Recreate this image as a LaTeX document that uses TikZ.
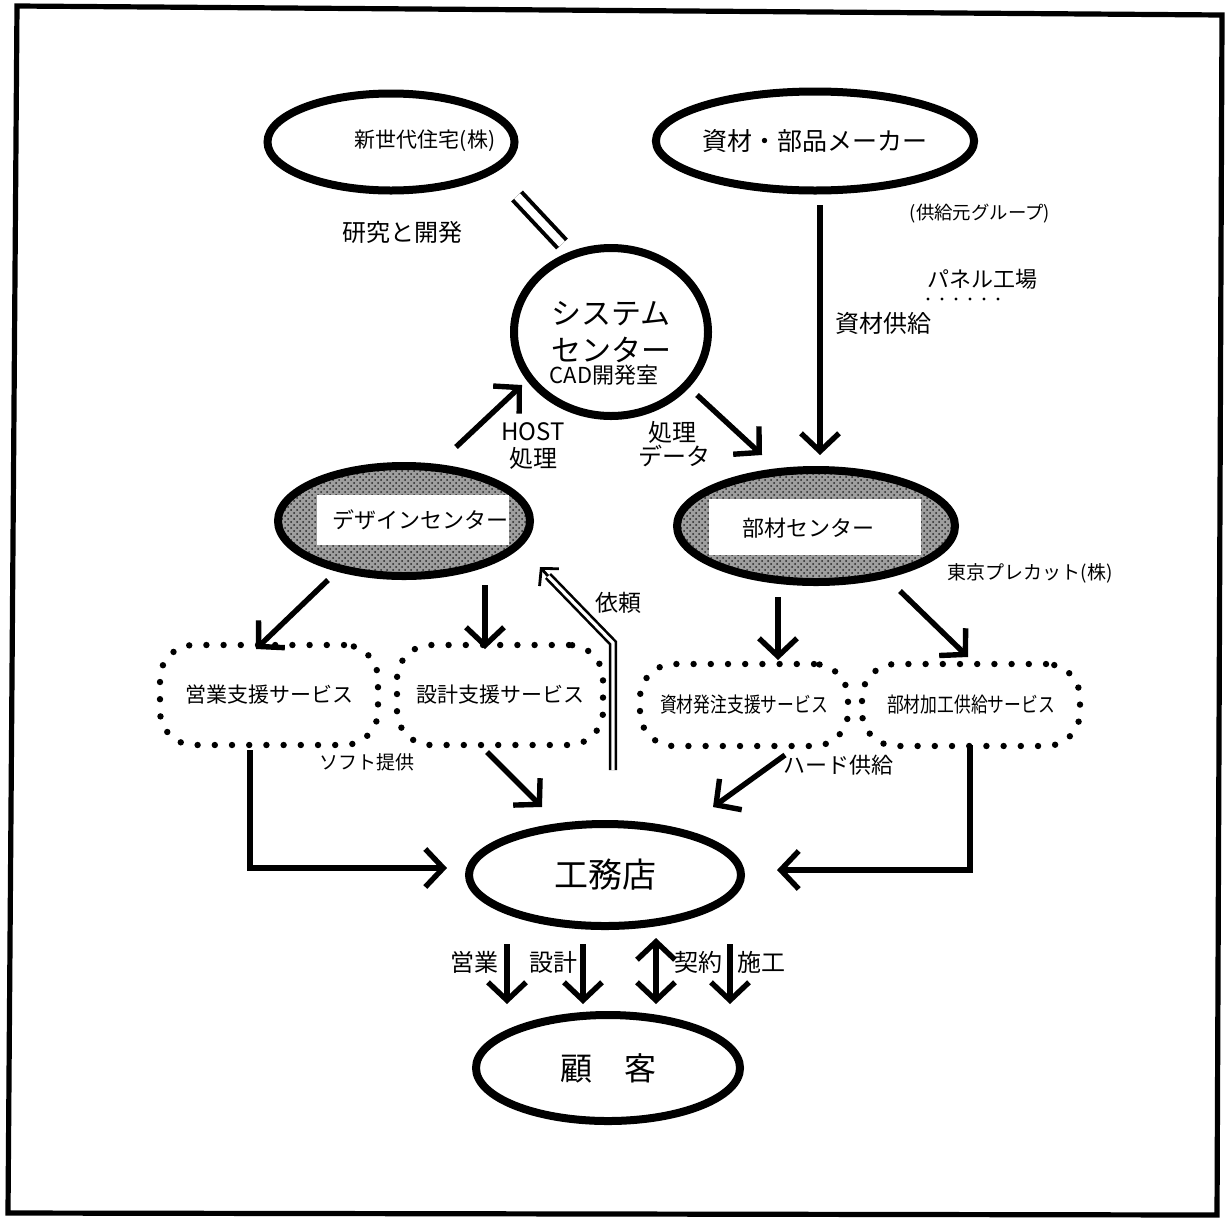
\documentclass[tikz,border=0pt]{standalone}
\usepackage{fontspec}
\setmainfont{Noto Sans CJK JP}
\usetikzlibrary{arrows.meta,shapes.geometric,patterns}

\begin{document}
\begin{tikzpicture}[x=0.5pt,y=-0.5pt,
  oval/.style={ellipse, draw, line width=4pt, inner sep=0pt, fill=white},
  ring/.style={ellipse, draw, line width=4pt, inner sep=0pt,
               preaction={fill=black!38}, pattern=crosshatch dots, pattern color=black!85},
  plate/.style={fill=white, inner sep=0pt},
  arr/.style={line width=2.7pt, -{Straight Barb[length=9pt,width=19pt,line width=2.7pt]}},
  dotbox/.style={draw, line width=3.2pt, dash pattern=on 0pt off 8.6pt, line cap=round,
                 rounded corners=17pt, inner sep=0pt, font=\fontsize{10.5}{12}\selectfont},
  lbl/.style={inner sep=0pt, font=\fontsize{12}{14}\selectfont},
  hand/.style={inner sep=0pt, font=\fontsize{10}{12}\selectfont},
  twin/.style={draw, line width=2pt, double=white, double distance=4pt}
]
\useasboundingbox (0,0) rectangle (1229,1221);

% outer frame
\draw[line width=2.6pt, line join=miter] (17,6) -- (1222,15) -- (1217,1215) -- (8,1213) -- cycle;

% ---- top row ----
\node[oval, minimum width=123.5pt, minimum height=48.5pt] (shin) at (391,142) {};
\node[hand, font=\fontsize{10.5}{12}\selectfont] (shintxt) at (425,141) {新世代住宅(株)};

\node[oval, minimum width=141pt, minimum height=49.5pt] (maker) at (815,141)
     {\fontsize{12.5}{14}\selectfont 資材・部品メーカー};

\node[hand, font=\fontsize{9.2}{11}\selectfont] (kyoukyu) at (980,214) {(供給元グループ)};
\node[hand, font=\fontsize{11}{13}\selectfont] (panel) at (982,279) {パネル工場};
\coordinate (ulA) at (928,299);
\coordinate (ulB) at (1008,299);
\draw[line width=1.6pt, dash pattern=on 0pt off 7pt, line cap=round] (ulA) -- (ulB);

\node[lbl] (kenkyu) at (402,232) {研究と開発};

% ---- system centre ----
\node[oval, minimum width=97pt, minimum height=84pt] (sys) at (611,332) {};
\node[inner sep=0pt, font=\fontsize{15}{17}\selectfont] (sys1) at (611,314) {システム};
\node[inner sep=0pt, font=\fontsize{15}{17}\selectfont] (sys2) at (611,350) {センター};
\node[hand, font=\fontsize{11}{13}\selectfont] (cad) at (604,375) {CAD開発室};

% link between 新世代住宅 and the system centre
\coordinate (tw1) at (517,196);
\coordinate (tw2) at (562,244);
\draw[twin] (tw1) -- (tw2);

% ---- second row centres ----
\node[ring, minimum width=126pt, minimum height=55pt] (design) at (404,521) {};
\node[plate, minimum width=96pt, minimum height=25pt] (designbox) at (413,520) {};
\node[hand, font=\fontsize{11}{13}\selectfont] (designtxt) at (420,520) {デザインセンター};

\node[ring, minimum width=139pt, minimum height=56pt] (buzai) at (816,526) {};
\node[plate, minimum width=106pt, minimum height=28pt] (buzaibox) at (815,527) {};
\node[hand, font=\fontsize{11}{13}\selectfont] (buzaitxt) at (808,528) {部材センター};

\node[hand, font=\fontsize{9.5}{11}\selectfont] (tpc) at (1030,573) {東京プレカット(株)};

% supply from makers
\coordinate (mk1) at (820,205);
\coordinate (mk2) at (820,455);
\draw[arr] (mk1) -- (mk2);
\node[lbl] (shizaikyo) at (883,323) {資材供給};

% HOST processing
\coordinate (h1) at (456,447);
\coordinate (h2) at (522,385);
\draw[arr] (h1) -- (h2);
\node[lbl] (host) at (533,432) {HOST};
\node[lbl] (hostsh) at (533,458) {処理};

% processed data
\coordinate (d1) at (697,395);
\coordinate (d2) at (762,455);
\draw[arr] (d1) -- (d2);
\node[lbl] (dsh) at (672,432) {処理};
\node[lbl] (ddata) at (674,456) {データ};

% ---- service boxes ----
\node[dotbox, minimum width=109pt, minimum height=50pt] (eigyo) at (269,695) {営業支援サービス};
\node[dotbox, minimum width=103pt, minimum height=50pt] (sekkei) at (500,695) {設計支援サービス};
\node[dotbox, minimum width=104pt, minimum height=41pt] (shizai) at (744,705)
     {\scalebox{0.8}[1]{\fontsize{10.5}{12}\selectfont 資材発注支援サービス}};
\node[dotbox, minimum width=109pt, minimum height=41pt] (kakou) at (971,705)
     {\scalebox{0.8}[1]{\fontsize{10.5}{12}\selectfont 部材加工供給サービス}};

\coordinate (e1) at (328,580);
\coordinate (e2) at (256,649);
\draw[arr] (e1) -- (e2);
\coordinate (s1) at (485,585);
\coordinate (s2) at (485,649);
\draw[arr] (s1) -- (s2);
\coordinate (z1) at (778,597);
\coordinate (z2) at (778,660);
\draw[arr] (z1) -- (z2);
\coordinate (k1) at (900,591);
\coordinate (k2) at (968,657);
\draw[arr] (k1) -- (k2);

% ---- 工務店 ----
\node[oval, minimum width=136pt, minimum height=51pt] (koumu) at (605,875)
     {\fontsize{17}{19}\selectfont 工務店};

\node[lbl, font=\fontsize{9.5}{11}\selectfont] (soft) at (367,762) {ソフト提供};
\node[lbl, font=\fontsize{11}{13}\selectfont] (hard) at (838,765) {ハード供給};

\coordinate (sk1) at (487,752);
\coordinate (sk2) at (542,807);
\draw[arr] (sk1) -- (sk2);
\coordinate (sz1) at (785,755);
\coordinate (sz2) at (713,807);
\draw[arr] (sz1) -- (sz2);

\coordinate (eg1) at (250,750);
\coordinate (eg2) at (447,868);
\draw[arr] (eg1) |- (eg2);
\coordinate (kk1) at (970,745);
\coordinate (kk2) at (777,870);
\draw[arr] (kk1) |- (kk2);

% request line back to the design centre
\coordinate (r1) at (613,770);
\coordinate (r2) at (613,643);
\coordinate (r3) at (548,576);
\coordinate (r4) at (540,567);
\draw[draw, line width=1.3pt, double=white, double distance=1.6pt, line join=miter] (r1) -- (r2) -- (r3);
\draw[line width=1.4pt, -{Straight Barb[length=6pt,width=13pt,line width=1.4pt]}] (r3) -- (r4);
\node[hand, font=\fontsize{11.5}{13}\selectfont] (irai) at (618,603) {依頼};

% ---- 顧客 ----
\node[oval, minimum width=132pt, minimum height=53pt] (kokyaku) at (608,1068)
     {\fontsize{16}{18}\selectfont 顧\hspace{1em}客};

\coordinate (b1a) at (507,944);
\coordinate (b1b) at (507,1004);
\draw[arr] (b1a) -- (b1b);
\coordinate (b2a) at (583,944);
\coordinate (b2b) at (583,1004);
\draw[arr] (b2a) -- (b2b);
\coordinate (b3a) at (656,938);
\coordinate (b3b) at (656,1004);
\draw[line width=2.7pt, {Straight Barb[length=9pt,width=19pt,line width=2.7pt]}-{Straight Barb[length=9pt,width=19pt,line width=2.7pt]}] (b3a) -- (b3b);
\coordinate (b4a) at (730,944);
\coordinate (b4b) at (730,1004);
\draw[arr] (b4a) -- (b4b);

\node[lbl] (l1) at (474,962) {営業};
\node[lbl] (l2) at (553,962) {設計};
\node[lbl] (l3) at (698,962) {契約};
\node[lbl] (l4) at (761,962) {施工};
\end{tikzpicture}
\end{document}
